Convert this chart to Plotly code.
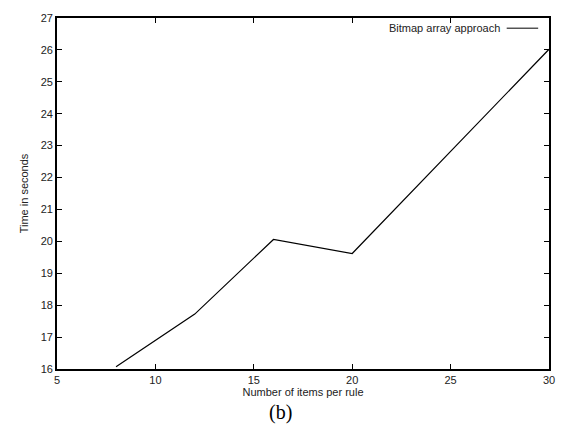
import plotly.graph_objects as go

items_per_rule = [8, 12, 16, 20, 30]
time_seconds = [16.07, 17.72, 20.06, 19.62, 26.02]
x_ticks = [5, 10, 15, 20, 25, 30]
y_ticks = list(range(16, 28))
series_name = "Bitmap array approach"

FONT = "Liberation Sans, Arial"
fig = go.Figure()
fig.add_trace(go.Scatter(x=items_per_rule, y=time_seconds, mode="lines",
                         line=dict(color="black", width=1.2),
                         name=series_name, showlegend=False))

axis_common = dict(showgrid=False, zeroline=False, showline=True, linecolor="black",
                   linewidth=1.8, mirror="allticks", ticks="inside", ticklen=5,
                   tickcolor="black", tickwidth=1,
                   tickfont=dict(family=FONT, size=11, color="#222"))

fig.update_xaxes(range=[5, 30], tickvals=x_ticks, **axis_common,
                 title=dict(text="Number of items per rule", standoff=3,
                            font=dict(family=FONT, size=11, color="#222")))
fig.update_yaxes(range=[16, 27], tickvals=y_ticks, **axis_common,
                 title=dict(text="Time in seconds", standoff=10,
                            font=dict(family=FONT, size=11, color="#222")))

fig.add_annotation(text=series_name, xref="paper", yref="paper", x=0.905, y=0.971,
                   xanchor="right", yanchor="middle", showarrow=False,
                   font=dict(family=FONT, size=11, color="#222"))
fig.add_shape(type="line", xref="paper", yref="paper", x0=0.914, x1=0.978, y0=0.971, y1=0.971,
              line=dict(color="black", width=1))
fig.add_annotation(text="(b)", xref="paper", yref="paper", x=0.455, y=-0.085,
                   xanchor="center", yanchor="top", showarrow=False,
                   font=dict(family="Liberation Serif, Times New Roman", size=20, color="black"))

fig.update_layout(width=566, height=424, margin=dict(l=57, r=11, t=18, b=55),
                  plot_bgcolor="white", paper_bgcolor="white")

fig.write_html("out.html")
